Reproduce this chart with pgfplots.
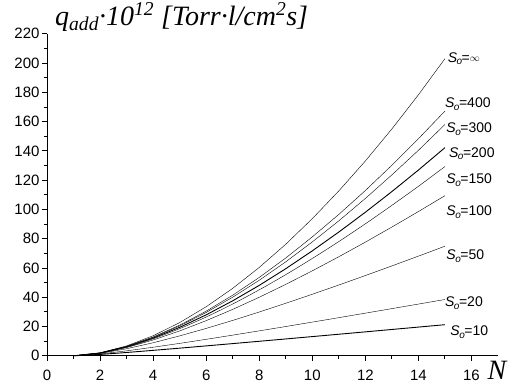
\documentclass[border=0pt]{standalone}
\usepackage{fontspec}
\setmainfont{Liberation Sans}
\newfontfamily\timesf{Liberation Serif}[ItalicFont={Liberation Serif Italic}]
\usepackage{pgfplots}
\pgfplotsset{compat=1.18}
\newcommand{\So}[1]{\textit{S}\kern-0.5pt\raisebox{-2.5pt}{\fontsize{10}{10}\selectfont\textit{o}}\kern-0.5pt=#1}
\begin{document}
\begin{tikzpicture}
\begin{axis}[
  scale only axis, width=451pt, height=322pt,
  xmin=0, xmax=17, ymin=0, ymax=220,
  axis lines=left, axis line style={-, line width=0.9pt},
  xtick={0,2,...,16}, ytick={0,20,...,220},
  minor xtick={1,3,...,15}, minor ytick={10,30,...,210},
  tick align=outside, major tick length=5pt, minor tick length=3pt,
  tick style={black, line width=0.9pt},
  /pgf/number format/assume math mode=true,
  ticklabel style={font=\fontsize{15}{16}\selectfont},
  xticklabel style={yshift=-6pt}, yticklabel style={xshift=1pt},
  clip=false,
  cycle list={{black, no markers, solid, line width=0.9pt, smooth}},
]
\addplot coordinates {(1,0) (2,2.00) (3,6.74) (4,13.70) (5,22.67) (6,33.50) (7,46.08) (8,60.36) (9,76.23) (10,93.70) (11,112.65) (12,133.09) (13,155.0) (14,178.3) (15,203.0)};
\addplot coordinates {(1,0) (2,1.943) (3,6.421) (4,12.84) (5,20.92) (6,30.49) (7,41.39) (8,53.54) (9,66.83) (10,81.24) (11,96.60) (12,112.9) (13,130.2) (14,148.3) (15,167.2)};
\addplot coordinates {(1,0) (2,1.924) (3,6.321) (4,12.57) (5,20.40) (6,29.60) (7,40.04) (8,51.60) (9,64.19) (10,77.79) (11,92.22) (12,107.5) (13,123.6) (14,140.4) (15,158.0)};
\addplot coordinates {(1,0) (2,1.889) (3,6.130) (4,12.07) (5,19.42) (6,27.97) (7,37.57) (8,48.11) (9,59.50) (10,71.70) (11,84.55) (12,98.08) (13,112.2) (14,126.9) (15,142.2)};
\addplot coordinates {(1,0) (2,1.854) (3,5.951) (4,11.61) (5,18.54) (6,26.51) (7,35.39) (8,45.07) (9,55.44) (10,66.49) (11,78.06) (12,90.17) (13,102.8) (14,115.8) (15,129.3)};
\addplot coordinates {(1,0) (2,1.789) (3,5.622) (4,10.79) (5,16.99) (6,24.01) (7,31.71) (8,40.00) (9,48.79) (10,58.05) (11,67.67) (12,77.65) (13,87.96) (14,98.55) (15,109.4)};
\addplot coordinates {(1,0) (2,1.618) (3,4.822) (4,8.903) (5,13.59) (6,18.71) (7,24.17) (8,29.91) (9,35.88) (10,42.05) (11,48.36) (12,54.82) (13,61.41) (14,68.09) (15,74.88)};
\addplot coordinates {(1,0) (2,1.258) (3,3.380) (4,5.837) (5,8.485) (6,11.25) (7,14.11) (8,17.03) (9,20.00) (10,23.01) (11,26.06) (12,29.13) (13,32.23) (14,35.34) (15,38.46)};
\addplot coordinates {(1,0) (2,0.917) (3,2.255) (4,3.708) (5,5.219) (6,6.764) (7,8.331) (8,9.915) (9,11.51) (10,13.12) (11,14.73) (12,16.35) (13,17.98) (14,19.61) (15,21.25)};
\begin{scope}[every node/.style={anchor=west, inner sep=0pt, font=\fontsize{14}{15}\selectfont}]
\node at (axis cs:15.1,203) {\So{\raisebox{1pt}{$\scriptstyle\infty$}}};
\node at (axis cs:15.0,172) {\So{400}};
\node at (axis cs:15.05,155) {\So{300}};
\node at (axis cs:15.15,138) {\So{200}};
\node at (axis cs:15.05,120) {\So{150}};
\node at (axis cs:15.05,98) {\So{100}};
\node at (axis cs:15.05,68) {\So{50}};
\node at (axis cs:15.0,36) {\So{20}};
\node at (axis cs:15.2,16) {\So{10}};
\end{scope}
\node[anchor=base west, inner xsep=0pt, inner ysep=3pt, font=\fontsize{28}{30}\timesf\itshape] at (axis cs:0.3,226) {q\textsubscript{add}·10\textsuperscript{12} [Torr·l/cm\textsuperscript{2}s]};
\node[anchor=north west, inner xsep=0pt, inner ysep=2pt, font=\fontsize{28}{30}\timesf\itshape] at (axis cs:16.6,-2) {N};
\path (axis cs:0,0) ++(-47pt,0pt) coordinate (bl);
\path (axis cs:17,0) ++(15pt,0pt) coordinate (br);
\end{axis}
\end{tikzpicture}
\end{document}
